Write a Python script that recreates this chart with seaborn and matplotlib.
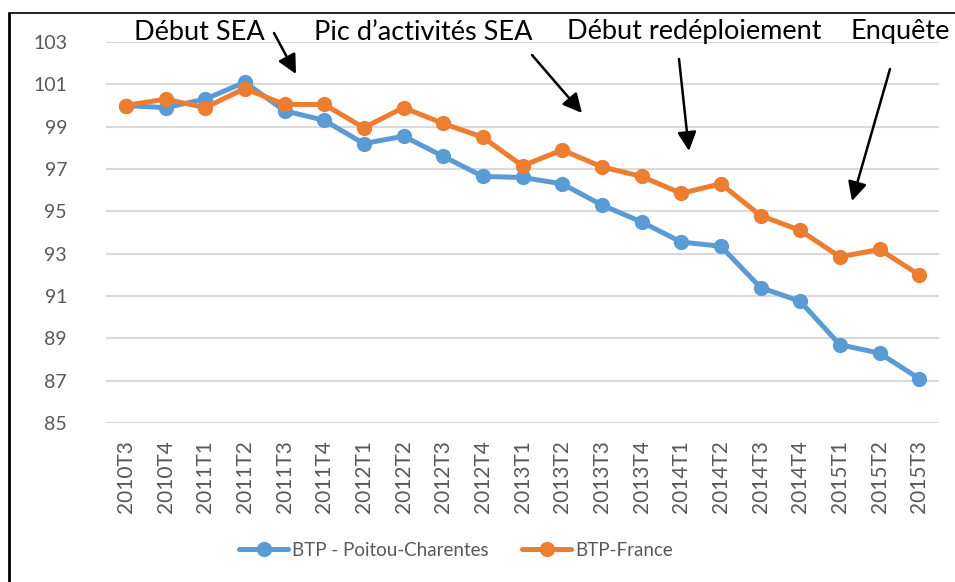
import matplotlib
matplotlib.use("Agg")
import matplotlib.pyplot as plt
import seaborn as sns
import pandas as pd
from matplotlib.lines import Line2D
from matplotlib.patches import FancyArrowPatch
from matplotlib.transforms import Bbox

periods = ["2010T3", "2010T4", "2011T1", "2011T2", "2011T3", "2011T4",
           "2012T1", "2012T2", "2012T3", "2012T4", "2013T1", "2013T2",
           "2013T3", "2013T4", "2014T1", "2014T2", "2014T3", "2014T4",
           "2015T1", "2015T2", "2015T3"]
poitou = [100.0, 99.9, 100.3, 101.1, 99.75, 99.3, 98.2, 98.55, 97.6, 96.65,
          96.6, 96.3, 95.3, 94.5, 93.55, 93.35, 91.4, 90.75, 88.7, 88.3, 87.1]
france = [100.0, 100.3, 99.9, 100.8, 100.05, 100.05, 98.95, 99.9, 99.15, 98.5,
          97.15, 97.9, 97.1, 96.65, 95.85, 96.3, 94.8, 94.1, 92.85, 93.2, 92.0]
series_names = ["BTP - Poitou-Charentes", "BTP-France"]
yticks = [85, 87, 89, 91, 93, 95, 97, 99, 101, 103]
annotations = ["Début SEA", "Pic d\u2019activités SEA", "Début redéploiement", "Enquête"]

df = pd.DataFrame({
    "periode": periods * 2,
    "valeur": poitou + france,
    "serie": [series_names[0]] * len(periods) + [series_names[1]] * len(periods),
})

sns.set_theme(style="white")
plt.rcParams["font.family"] = ["Lato", "DejaVu Sans"]

W, H = 955, 582
fig = plt.figure(figsize=(W / 100, H / 100), dpi=100)
ax = fig.add_axes([106 / W, 1 - 423 / H, (939 - 106) / W, (423 - 42) / H])

palette = {series_names[0]: "#5B9BD5", series_names[1]: "#ED7D31"}
sns.lineplot(data=df, x="periode", y="valeur", hue="serie", palette=palette,
             marker="o", markersize=11, linewidth=3.6, markeredgewidth=0,
             sort=False, ax=ax, legend=False)

ax.set_xlim(-0.5, len(periods) - 0.5)
ax.set_ylim(85, 103)
ax.set_yticks(yticks)
ax.set_yticklabels([str(v) for v in yticks])
ax.set_xticks(range(len(periods)))
ax.set_xticklabels(periods, rotation=90)
ax.set_xlabel("")
ax.set_ylabel("")
for s in ax.spines.values():
    s.set_visible(False)
ax.grid(axis="y", color="#D9D9D9", linewidth=1.5)
ax.set_axisbelow(True)
ax.tick_params(axis="y", length=0, pad=28, labelsize=14, labelcolor="#595959")
ax.tick_params(axis="x", length=0, pad=12, labelsize=15, labelcolor="#595959")

handles = [Line2D([], [], color=palette[n], marker="o", markersize=11,
                  linewidth=3.6, markeredgewidth=0) for n in series_names]
fig.legend(handles, series_names, loc="center", ncol=2,
           bbox_to_anchor=(456 / W, 1 - 550 / H), frameon=False,
           fontsize=13.5, handlelength=2.6, handletextpad=0.2, columnspacing=1.8,
           labelcolor="#595959")

# annotation texts and arrows (figure pixel positions)
text_pos = [(199, 32), (423, 32), (694, 32), (900, 32)]
arrows = [((274, 33), (296, 74)), ((532, 55), (582, 113)),
          ((679, 59), (689, 151)), ((890, 69), (852, 201))]
clip = Bbox.from_extents(0, H - 44, W, H)
for label, (x, y) in zip(annotations, text_pos):
    t = fig.text(x / W, 1 - y / H, label, ha="center", va="center",
                 fontsize=19.5, color="black")
    t.set_clip_box(clip)
    t.set_clip_on(True)
for (x0, y0), (x1, y1) in arrows:
    fig.add_artist(FancyArrowPatch(
        (x0 / W, 1 - y0 / H), (x1 / W, 1 - y1 / H), transform=fig.transFigure,
        arrowstyle="-|>,head_length=10,head_width=5", mutation_scale=1.15,
        color="black", linewidth=1.8, shrinkA=0, shrinkB=0))

# outer frame (left and top)
fig.add_artist(Line2D([9 / W, 9 / W], [0, 1 - 13 / H], transform=fig.transFigure,
                      color="black", linewidth=2.0))
fig.add_artist(Line2D([9 / W, 1], [1 - 13 / H, 1 - 13 / H], transform=fig.transFigure,
                      color="black", linewidth=1.2))

fig.savefig("out.png", dpi=100)
